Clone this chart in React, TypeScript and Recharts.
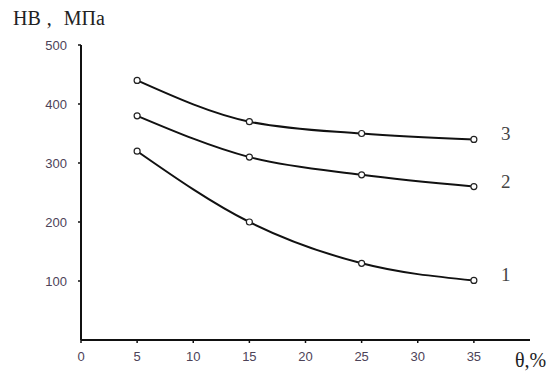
import { Line, LineChart, XAxis, YAxis } from "recharts";

const strain = [5, 15, 25, 35];
const curve1 = [320, 200, 130, 101];
const curve2 = [380, 310, 280, 260];
const curve3 = [440, 370, 350, 340];
const xTicks = [0, 5, 10, 15, 20, 25, 30, 35];
const yTicks = [100, 200, 300, 400, 500];

const data = strain.map((x, i) => ({ x, c1: curve1[i], c2: curve2[i], c3: curve3[i] }));

const tickStyle = { fill: "#4d4358", fontSize: 13, fontFamily: "Liberation Sans, Arial, sans-serif" };

function endLabel(name: string) {
  return (props: any) => {
    const { x, y, index } = props;
    if (index !== data.length - 1) return null;
    return (
      <text key={name} x={x + 27} y={y} dy={1} fill="#444" fontSize={19} fontFamily="Liberation Serif, serif">
        {name}
      </text>
    );
  };
}

const dot = { r: 3, fill: "#fff", stroke: "#222", strokeWidth: 1.2 };

export default function App() {
  return (
    <div style={{ position: "absolute", left: 0, top: 0, width: 557, height: 374, background: "#fff" }}>
      <div
        style={{
          position: "absolute",
          left: 13,
          top: 7,
          fontFamily: "Liberation Serif, serif",
          fontSize: 20,
          color: "#222",
          whiteSpace: "nowrap",
        }}
      >
        НВ<span style={{ marginLeft: 6 }}>,</span>
        <span style={{ marginLeft: 12 }}>МПа</span>
      </div>
      <div
        style={{
          position: "absolute",
          left: 515,
          top: 349,
          fontFamily: "Liberation Serif, serif",
          fontSize: 20,
          color: "#222",
        }}
      >
        θ,%
      </div>
      <LineChart width={557} height={374} data={data} margin={{ top: 45, right: 27, bottom: 9, left: 41 }}>
        <XAxis
          dataKey="x"
          type="number"
          domain={[0, 40]}
          ticks={xTicks}
          axisLine={{ stroke: "#111", strokeWidth: 2 }}
          tickLine={{ stroke: "#111", strokeWidth: 1.5 }}
          tickSize={3}
          tickMargin={9}
          tick={tickStyle}
          height={25}
        />
        <YAxis
          type="number"
          domain={[0, 500]}
          ticks={yTicks}
          axisLine={{ stroke: "#111", strokeWidth: 2 }}
          tickLine={{ stroke: "#111", strokeWidth: 1.5 }}
          tickSize={3}
          tickMargin={11}
          tick={tickStyle}
          width={40}
        />
        <Line dataKey="c1" type="monotone" stroke="#111" strokeWidth={2} dot={dot} label={endLabel("1")} isAnimationActive={false} />
        <Line dataKey="c2" type="monotone" stroke="#111" strokeWidth={2} dot={dot} label={endLabel("2")} isAnimationActive={false} />
        <Line dataKey="c3" type="monotone" stroke="#111" strokeWidth={2} dot={dot} label={endLabel("3")} isAnimationActive={false} />
      </LineChart>
    </div>
  );
}
